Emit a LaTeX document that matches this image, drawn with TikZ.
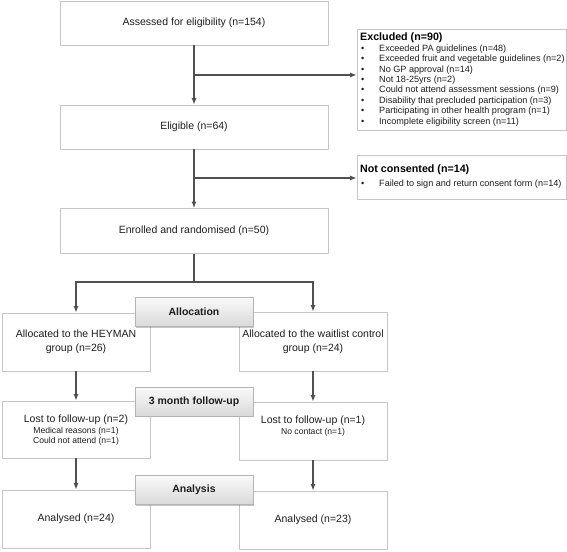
\documentclass[tikz,border=0pt]{standalone}
\usepackage{fontspec}
\setmainfont{Liberation Sans}
\usetikzlibrary{arrows.meta,shadows}
\definecolor{boxline}{HTML}{C6C6C6}
\definecolor{arrline}{HTML}{505050}
\definecolor{hdrline}{HTML}{B4B4B4}
\definecolor{txtc}{HTML}{1E1E1E}
\tikzset{
  box/.style={draw=boxline, line width=0.8pt, fill=white, inner sep=0pt, text=txtc,
    align=center, font=\fontsize{10.5}{14}\selectfont},
  hdr/.style={draw=hdrline, line width=0.6pt, top color=gray!4, bottom color=gray!30,
    inner sep=0pt, minimum width=118pt, minimum height=29pt, text=txtc,
    font=\bfseries\fontsize{10.5}{13}\selectfont,
    drop shadow={shadow xshift=1.2pt, shadow yshift=-1.2pt, fill=black, opacity=0.22}},
  big/.style={inner sep=0pt, text=txtc, font=\fontsize{10.5}{13}\selectfont},
  small/.style={inner sep=0pt, text=txtc, font=\fontsize{8.6}{10}\selectfont},
  bhead/.style={inner sep=0pt, text=black, anchor=west, font=\bfseries\fontsize{10.7}{13}\selectfont},
  item/.style={inner sep=0pt, text=txtc, anchor=west, font=\fontsize{9.1}{10}\selectfont},
  arr/.style={draw=arrline, line width=1.2pt, -{Latex[length=6.5pt,width=5pt]}},
  ln/.style={draw=arrline, line width=1.2pt}
}
\begin{document}
\begin{tikzpicture}[x=1pt,y=-1pt]
\useasboundingbox (0,0) rectangle (567,551);
\fill[white] (0,0) rectangle (567,551);

% main column
\node[box, minimum width=268pt, minimum height=44pt] (assess) at (194,23) {Assessed for eligibility (n=154)};
\node[box, minimum width=268pt, minimum height=44pt] (elig) at (194,127) {Eligible (n=64)};
\node[box, minimum width=268pt, minimum height=45pt] (enrol) at (194,231) {Enrolled and randomised (n=50)};

% side boxes
\node[box, minimum width=209pt, minimum height=101pt] (excl) at (461.5,79.5) {};
\node[bhead] (exclh) at (360,38) {Excluded (n=90)};
\foreach \t [count=\i] in {{Exceeded PA guidelines (n=48)},
  {Exceeded fruit and vegetable guidelines (n=2)},
  {No GP approval (n=14)},
  {Not 18-25yrs (n=2)},
  {Could not attend assessment sessions (n=9)},
  {Disability that precluded participation (n=3)},
  {Participating in other health program (n=1)},
  {Incomplete eligibility screen (n=11)}}
  \node[item] (ex\i) at (361,{49+(\i-1)*10.4}) {\makebox[18pt][l]{•}\t};

\node[box, minimum width=209pt, minimum height=44pt] (notc) at (461.5,177) {};
\node[bhead] (notch) at (360,170) {Not consented (n=14)};
\node[item] (nc1) at (361,184) {\makebox[18pt][l]{•}Failed to sign and return consent form (n=14)};

% arms
\node[box, minimum width=148pt, minimum height=58pt] (hey) at (76,342) {Allocated to the HEYMAN\\group (n=26)};
\node[box, minimum width=148pt, minimum height=59pt] (wait) at (313,341.5) {Allocated to the waitlist control\\group (n=24)};

\node[box, minimum width=148pt, minimum height=57pt] (lost1) at (76,429.5) {};
\node[big] (l1a) at (76,419.5) {Lost to follow-up (n=2)};
\node[small] (l1b) at (76,431.5) {Medical reasons (n=1)};
\node[small] (l1c) at (76,441.5) {Could not attend (n=1)};

\node[box, minimum width=148pt, minimum height=58pt] (lost2) at (313,431) {};
\node[big] (l2a) at (313,421) {Lost to follow-up (n=1)};
\node[small] (l2b) at (313,432.5) {No contact (n=1)};

\node[box, minimum width=148pt, minimum height=58pt] (an1) at (76,519) {Analysed (n=24)};
\node[box, minimum width=148pt, minimum height=58pt] (an2) at (313,520) {Analysed (n=23)};

% connectors
\coordinate (b1) at (194,75);
\coordinate (b2) at (194,178);
\coordinate (split) at (194,282);
\draw[arr] (assess.south) -- (elig.north);
\draw[arr] (b1) -- (b1 -| excl.west);
\draw[arr] (elig.south) -- (enrol.north);
\draw[arr] (b2) -- (b2 -| notc.west);
\draw[ln] (enrol.south) -- (split);
\draw[arr] (split) -| (hey.north);
\draw[arr] (split) -| (wait.north);
\draw[arr] (hey.south) -- (lost1.north);
\draw[arr] (wait.south) -- (lost2.north);
\draw[arr] (lost1.south) -- (an1.north);
\draw[arr] (lost2.south) -- (an2.north);

% stage headers
\node[hdr] (halloc) at (194,312) {Allocation};
\node[hdr] (hfollow) at (194,401.5) {3 month follow-up};
\node[hdr] (hanal) at (194,490) {Analysis};
\end{tikzpicture}
\end{document}
